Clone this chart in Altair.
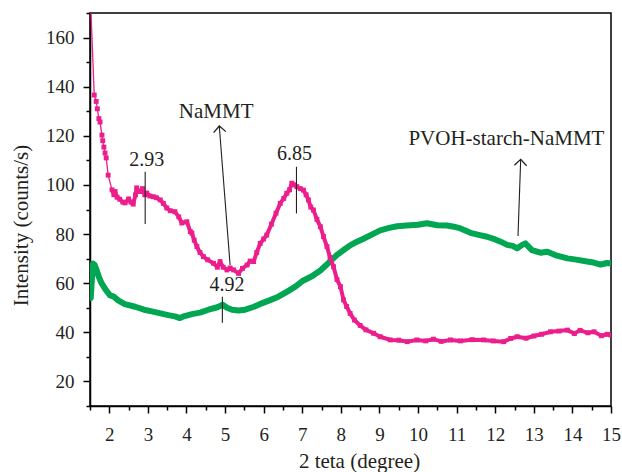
import altair as alt
import pandas as pd

# NaMMT (pink) series
pink_x = [1.5, 1.61, 1.66, 1.69, 1.73, 1.76, 1.81, 1.83, 1.86, 1.89, 1.92, 1.97, 2.07, 2.12, 2.15,
          2.2, 2.27, 2.35, 2.41, 2.5, 2.56, 2.62, 2.68, 2.71, 2.76, 2.8, 2.86, 2.92, 2.97, 3.05,
          3.14, 3.22, 3.32, 3.4, 3.49, 3.58, 3.7, 3.8, 3.88, 4.01, 4.1, 4.14, 4.2, 4.27, 4.35,
          4.44, 4.55, 4.7, 4.8, 4.87, 4.95, 5.05, 5.13, 5.22, 5.35, 5.45, 5.57, 5.65, 5.74, 5.82,
          5.91, 6.0, 6.08, 6.2, 6.32, 6.43, 6.52, 6.6, 6.67, 6.73, 6.8, 6.86, 6.95, 7.03, 7.1,
          7.16, 7.22, 7.29, 7.38, 7.47, 7.55, 7.64, 7.72, 7.81, 7.9, 7.99, 8.07, 8.15, 8.24, 8.35,
          8.5, 8.65, 8.85, 9.02, 9.28, 9.5, 9.72, 9.97, 10.2, 10.4, 10.6, 10.84, 11.1, 11.4, 11.7,
          11.95, 12.22, 12.4, 12.57, 12.8, 13.0, 13.2, 13.43, 13.65, 13.87, 14.05, 14.2, 14.4, 14.56,
          14.75, 14.9, 15.0]
pink_y = [180, 136.6, 134, 131, 127, 125.6, 120.3, 118, 115.4, 113, 111, 104, 98, 96, 97.3,
          95, 94.2, 93, 92.7, 94.3, 93, 92.2, 96, 98.8, 97.5, 97.3, 98.5, 96, 96.7, 95.5,
          95.2, 94.8, 93.9, 92.5, 90.6, 89.5, 89.1, 87, 84.5, 85, 81, 80.4, 77.5, 74.9, 72.5,
          70.8, 69.5, 68.1, 66.5, 68.8, 66.5, 65.4, 66.2, 65.4, 64, 66, 67.4, 69, 68.8, 72.5,
          76.2, 78, 79.6, 84, 88.5, 92.5, 94.5, 96.6, 98, 100.7, 100, 99.3, 98.5, 97.9, 96,
          93.9, 91, 89.8, 86, 83, 79, 74.9, 70.5, 66.7, 61.5, 58.6, 53.2, 50.5, 47.7, 45,
          42.8, 41, 39.6, 38.2, 36.9, 36.8, 36.2, 36.9, 36.5, 37.2, 36.3, 36.9, 36.5, 37, 36.9,
          36.5, 36.2, 37.5, 38.2, 37.6, 38.5, 39.2, 40.2, 40.5, 40.9, 39.5, 40.8, 39.8, 40.2,
          38.6, 39.2, 38.9]

# PVOH-starch-NaMMT (green) series
green_x = [1.52, 1.55, 1.58, 1.62, 1.67, 1.73, 1.8, 1.9, 2.02, 2.12, 2.23, 2.4, 2.67, 2.9, 3.1,
           3.3, 3.53, 3.7, 3.83, 3.95, 4.14, 4.35, 4.57, 4.8, 4.94, 5.05, 5.18, 5.35, 5.52, 5.75,
           5.95, 6.15, 6.38, 6.6, 6.82, 7.02, 7.25, 7.47, 7.7, 7.9, 8.07, 8.25, 8.42, 8.6, 8.8,
           9.02, 9.25, 9.46, 9.7, 10.0, 10.23, 10.5, 10.75, 10.93, 11.1, 11.36, 11.6, 11.79, 12.0,
           12.14, 12.31, 12.45, 12.57, 12.7, 12.78, 12.95, 13.17, 13.35, 13.6, 13.87, 14.1, 14.38,
           14.55, 14.73, 14.9, 15.0]
green_y = [54, 62, 68, 67.5, 65.4, 62.5, 60, 57.5, 55, 54.5, 53, 51.5, 50.4, 49.2, 48.5,
           47.8, 47, 46.5, 45.8, 46.6, 47.4, 48, 49.2, 50.2, 51.2, 50, 49.2, 48.9, 49.2, 50.4,
           51.8, 53, 54.5, 56.5, 58.6, 61, 62.8, 65.2, 68.5, 71.5, 73.5, 75.5, 76.9, 78.2, 79.8,
           81.5, 82.5, 83.2, 83.5, 83.8, 84.4, 83.6, 83.5, 83, 82.3, 80.5, 79.6, 78.9, 77.8,
           76.9, 75.6, 75.2, 74.2, 75.6, 76.2, 73.5, 72.4, 72.8, 71.2, 70.1, 69.6, 68.8,
           68.4, 67.6, 68.2, 68.0]

# annotation texts
label_text = ["2.93", "6.85", "4.92", "NaMMT", "PVOH-starch-NaMMT"]
label_x = [2.97, 6.80, 5.05, 4.77, 12.29]
label_y = [110.2, 112.6, 59.1, 129.8, 118.6]
label_size = [20, 20, 20, 21, 21]

# annotation segments (peak markers and arrow shafts)
seg_x = [2.93, 6.85, 4.93, 5.13, 12.59]
seg_y = [84.1, 88.4, 43.9, 67.4, 79.2]
seg_x2 = [2.93, 6.85, 4.93, 4.85, 12.66]
seg_y2 = [105.4, 107.4, 54.5, 124.0, 110.4]

# arrowheads
head_x = [4.85, 12.66]
head_y = [124.0, 110.4]
head_angle = [355.6, 2.0]

PINK = "#ec1e8c"
GREEN = "#00a651"
INK = "#231f20"
FONT = "Liberation Serif"

pink = pd.DataFrame({"x": pink_x, "y": pink_y})
green = pd.DataFrame({"x": green_x, "y": green_y})
labels = pd.DataFrame({"x": label_x, "y": label_y, "t": label_text, "s": label_size})
segs = pd.DataFrame({"x": seg_x, "y": seg_y, "x2": seg_x2, "y2": seg_y2})
heads = pd.DataFrame({"x": head_x, "y": head_y, "a": head_angle})

x_vals = [1.5 + 0.5 * i for i in range(28)]
y_vals = [10 * i for i in range(1, 18)]

X = alt.X("x:Q", scale=alt.Scale(domain=[1.5, 15], nice=False, zero=False),
          axis=alt.Axis(values=x_vals, title="2 teta (degree)", format=".0f",
                        labelExpr="datum.value % 1 === 0 ? datum.label : ''",
                        tickSize={"condition": {"test": "datum.value % 1 !== 0", "value": 4}, "value": 7},
                        labelPadding=12, titleX=269, titleY=44))
Y = alt.Y("y:Q", scale=alt.Scale(domain=[10, 170], nice=False, zero=False),
          axis=alt.Axis(values=y_vals, title="Intensity (counts/s)", format=".0f",
                        labelExpr="datum.value % 20 === 0 ? datum.label : ''",
                        tickSize={"condition": {"test": "datum.value % 20 !== 0", "value": 4}, "value": 7},
                        labelPadding=9, titleX=-59, titleY=212))

green_line = alt.Chart(green).mark_line(color=GREEN, strokeWidth=6, strokeCap="round",
                                        strokeJoin="round", clip=True).encode(x=X, y=Y)
pink_thin = alt.Chart(pink).mark_line(color=PINK, strokeWidth=1.3, clip=True).encode(x=X, y=Y)
pink_thick = alt.Chart(pink).transform_filter("datum.x >= 2.05").mark_line(
    color=PINK, strokeWidth=4, strokeJoin="round", clip=True).encode(x=X, y=Y)
pink_pts = alt.Chart(pink).mark_point(shape="square", filled=True, size=24, color=PINK,
                                      opacity=1, clip=True).encode(x=X, y=Y)

rules = alt.Chart(segs).mark_rule(color=INK, strokeWidth=1.1).encode(
    x=X, y=Y, x2="x2:Q", y2="y2:Q")
arrow_heads = alt.Chart(heads).mark_point(shape="M-1,1L0,0L1,1", filled=False, size=150,
                                          color=INK, strokeWidth=1.3, opacity=1).encode(
    x=X, y=Y, angle=alt.Angle("a:Q", scale=None))
texts = alt.Chart(labels).mark_text(font=FONT, color=INK, align="center", baseline="middle").encode(
    x=X, y=Y, text="t:N", size=alt.Size("s:Q", scale=None))

chart = alt.layer(green_line, pink_thin, pink_thick, pink_pts, rules, arrow_heads, texts).properties(
    width=521, height=393,
    autosize=alt.AutoSizeParams(type="none"),
    padding={"left": 90, "top": 13, "right": 11, "bottom": 66},
    background="white",
).configure_view(stroke="black", strokeWidth=1.5).configure_axis(
    grid=False, domainColor="black", domainWidth=1.5, tickColor="black", tickWidth=1.5,
    labelFont=FONT, labelFontSize=19, labelColor=INK, labelFlush=False, labelOverlap=False,
    titleFont=FONT, titleFontSize=21, titleColor=INK, titleFontWeight="normal",
)

chart.save("out.html", embed_options={"renderer": "svg", "actions": False})
